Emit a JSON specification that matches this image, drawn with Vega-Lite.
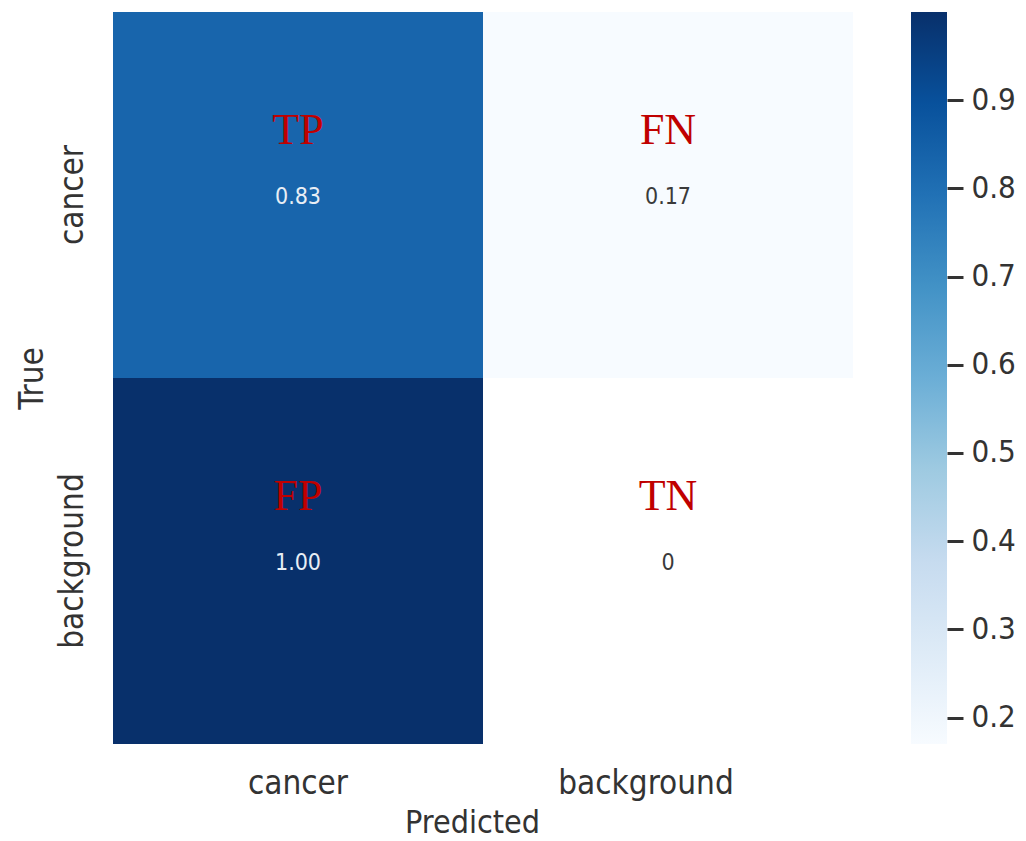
{
  "$schema": "https://vega.github.io/schema/vega-lite/v6.json",
  "padding": {"left": 16, "top": 12, "right": 0, "bottom": 0},
  "background": "white",
  "config": {
    "view": {"stroke": null},
    "font": "DejaVu Sans Condensed, DejaVu Sans"
  },
  "datasets": {
    "cells": [
      {"actual": "cancer", "predicted": "cancer", "value": 0.83, "annot": "0.83", "kind": "TP"},
      {"actual": "cancer", "predicted": "background", "value": 0.17, "annot": "0.17", "kind": "FN"},
      {"actual": "background", "predicted": "cancer", "value": 1.0, "annot": "1.00", "kind": "FP"},
      {"actual": "background", "predicted": "background", "value": 0, "annot": "0", "kind": "TN"}
    ],
    "bar": [
      {"lo": 0.17, "hi": 1.0}
    ]
  },
  "spacing": 58,
  "hconcat": [
    {
      "width": 740,
      "height": 732,
      "data": {"name": "cells"},
      "encoding": {
        "x": {
          "field": "predicted",
          "type": "nominal",
          "sort": ["cancer", "background"],
          "scale": {"paddingInner": 0, "paddingOuter": 0},
          "axis": {
            "title": "Predicted",
            "labelAngle": 0,
            "labelFontSize": 33,
            "labelColor": "#333333",
            "labelBaseline": "alphabetic",
            "labelPadding": 49,
            "labelOffset": {"condition": {"test": "datum.label == 'background'", "value": -22}, "value": 0},
            "ticks": false,
            "tickSize": 0,
            "domain": false,
            "grid": false,
            "titleFontSize": 32,
            "titleFontWeight": "normal",
            "titleColor": "#333333",
            "titleBaseline": "alphabetic",
            "titleX": 359,
            "titleY": 88
          }
        },
        "y": {
          "field": "actual",
          "type": "nominal",
          "sort": ["cancer", "background"],
          "scale": {"paddingInner": 0, "paddingOuter": 0},
          "axis": {
            "title": "True",
            "labelAngle": 270,
            "labelAlign": "center",
            "labelBaseline": "alphabetic",
            "labelFontSize": 33,
            "labelColor": "#333333",
            "labelPadding": 31,
            "ticks": false,
            "tickSize": 0,
            "domain": false,
            "grid": false,
            "titleFontSize": 33,
            "titleFontWeight": "normal",
            "titleColor": "#333333",
            "titleAngle": 270,
            "titleBaseline": "alphabetic",
            "titleX": -71
          }
        }
      },
      "layer": [
        {
          "mark": {"type": "rect"},
          "encoding": {
            "color": {
              "field": "value",
              "type": "quantitative",
              "scale": {
                "domain": [0.17, 0.27375, 0.3775, 0.48125, 0.585, 0.68875, 0.7925, 0.89625, 1.0],
                "range": ["#f7fbff", "#deebf7", "#c6dbef", "#9ecae1", "#6baed6", "#4292c6", "#2171b5", "#08519c", "#08306b"],
                "interpolate": "rgb",
                "clamp": false
              },
              "legend": null
            }
          }
        },
        {
          "mark": {
            "type": "text",
            "font": "Liberation Serif",
            "fontSize": 44,
            "color": "#c00000",
            "baseline": "alphabetic",
            "dy": -51
          },
          "encoding": {
            "text": {"field": "kind", "type": "nominal"}
          }
        },
        {
          "mark": {
            "type": "text",
            "fontSize": 23,
            "baseline": "alphabetic",
            "dy": 8.5
          },
          "encoding": {
            "text": {"field": "annot", "type": "nominal"},
            "color": {
              "condition": {"test": "datum.value > 0.5", "value": "#e8eef5"},
              "value": "#3a3a3a"
            }
          }
        }
      ]
    },
    {
      "width": 36,
      "height": 732,
      "data": {"name": "bar"},
      "mark": {
        "type": "rect",
        "fill": {
          "gradient": "linear",
          "x1": 0, "y1": 1, "x2": 0, "y2": 0,
          "stops": [
            {"offset": 0, "color": "#f7fbff"},
            {"offset": 0.125, "color": "#deebf7"},
            {"offset": 0.25, "color": "#c6dbef"},
            {"offset": 0.375, "color": "#9ecae1"},
            {"offset": 0.5, "color": "#6baed6"},
            {"offset": 0.625, "color": "#4292c6"},
            {"offset": 0.75, "color": "#2171b5"},
            {"offset": 0.875, "color": "#08519c"},
            {"offset": 1, "color": "#08306b"}
          ]
        }
      },
      "encoding": {
        "y": {
          "field": "lo",
          "type": "quantitative",
          "scale": {"domain": [0.17, 1.0], "nice": false, "zero": false},
          "axis": {
            "orient": "right",
            "title": null,
            "values": [0.2, 0.3, 0.4, 0.5, 0.6, 0.7, 0.8, 0.9],
            "format": ".1f",
            "domain": false,
            "grid": false,
            "tickSize": 16,
            "tickWidth": 3,
            "tickColor": "#333333",
            "labelFontSize": 31,
            "labelColor": "#333333",
            "labelPadding": 8,
            "labelBaseline": "middle"
          }
        },
        "y2": {"field": "hi"}
      }
    }
  ]
}
